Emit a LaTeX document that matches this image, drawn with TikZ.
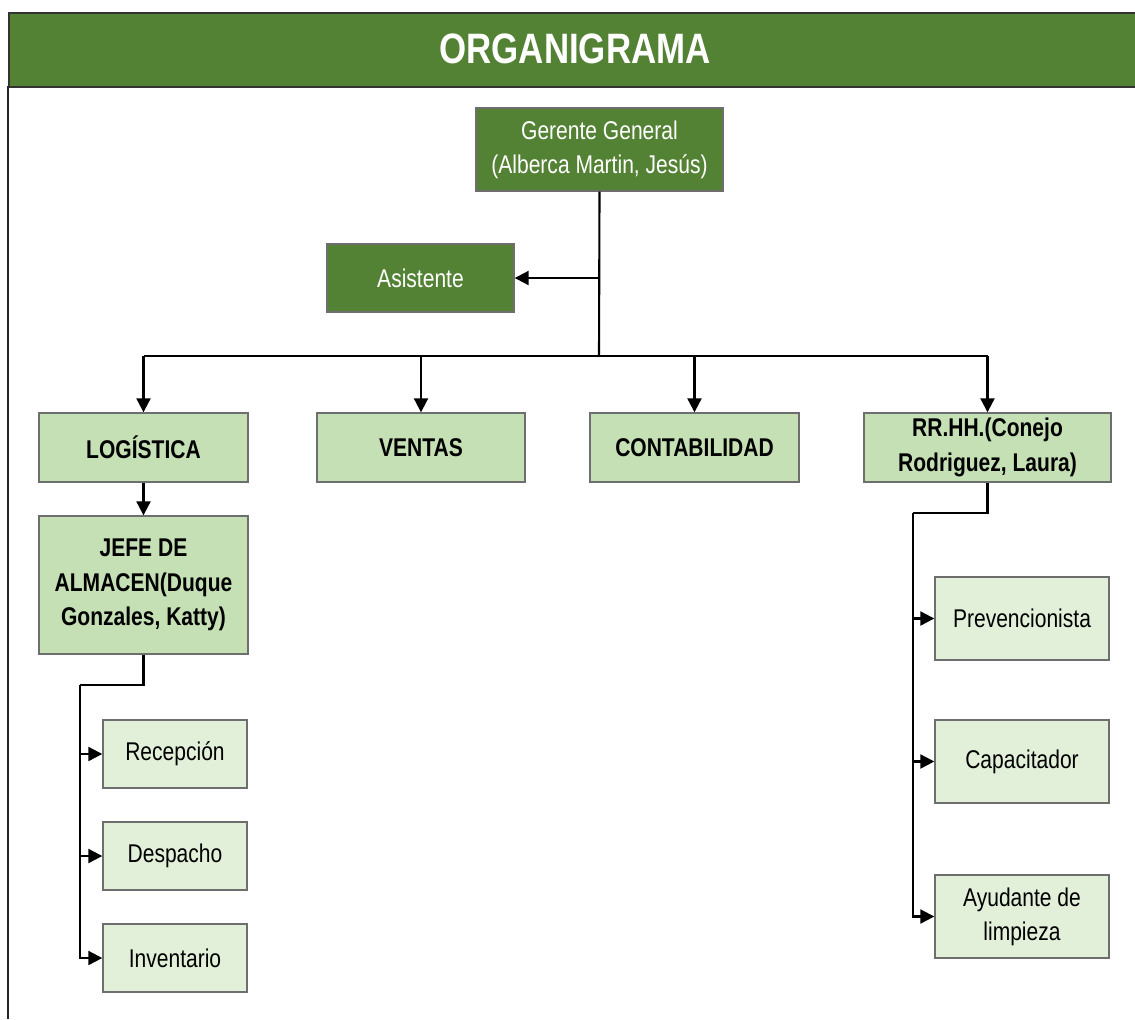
\documentclass[tikz,border=0pt]{standalone}
\usepackage{fontspec}
\setmainfont{Liberation Sans}[FakeStretch=0.82]
\usetikzlibrary{arrows.meta}
\definecolor{dkgreen}{HTML}{548235}
\definecolor{midgreen}{HTML}{C5E0B4}
\definecolor{ltgreen}{HTML}{E2F0D9}
\definecolor{boxline}{HTML}{6E6E6E}
\begin{document}
\begin{tikzpicture}[x=0.02cm,y=-0.02cm,
  base/.style={rectangle,draw=boxline,line width=0.8pt,align=center,inner sep=0pt,
    font=\fontsize{14.6}{19.5}\selectfont},
  dkbox/.style={base,fill=dkgreen,text=white},
  mdbox/.style={base,fill=midgreen,text=black,font=\fontsize{14.6}{19.5}\selectfont\bfseries},
  ltbox/.style={base,fill=ltgreen,text=black},
  conn/.style={line width=1.2pt,black},
  arr/.style={conn,-{Triangle[length=8pt,width=8pt]}}]
\useasboundingbox (0,0) rectangle (1135,1019);
% frame and title
\fill[white] (0,0) rectangle (1135,1019);
\node[rectangle,fill=dkgreen,draw=black!80,line width=1.3pt,minimum width=22.8cm,minimum height=1.48cm,
  anchor=north west,inner sep=0pt] (title) at (8,12) {};
\node[text=white,font=\fontsize{24.2}{28}\selectfont\bfseries] (ttext) at (575,49) {ORGANIGRAMA};
\coordinate (fl) at (8,86);
\coordinate (fb) at (8,1019);
\draw[black!85,line width=1.4pt] (fl) -- (fb);
% boxes
\node[dkbox,minimum width=4.94cm,minimum height=1.66cm] (ger) at (599.5,149.5) {Gerente General\\(Alberca Martin, Jesús)};
\node[dkbox,minimum width=3.74cm,minimum height=1.36cm] (asis) at (420.5,278) {Asistente};
\node[mdbox,minimum width=4.18cm,minimum height=1.38cm] (log) at (143.5,447.5) {LOGÍSTICA};
\node[mdbox,minimum width=4.16cm,minimum height=1.38cm] (ven) at (421,447.5) {VENTAS};
\node[mdbox,minimum width=4.18cm,minimum height=1.38cm] (con) at (694.5,447.5) {CONTABILIDAD};
\node[mdbox,minimum width=4.94cm,minimum height=1.38cm] (rrhh) at (987.5,447.5) {RR.HH.(Conejo\\Rodriguez, Laura)};
\node[mdbox,minimum width=4.18cm,minimum height=2.76cm] (jefe) at (143.5,585) {JEFE DE\\ALMACEN(Duque\\Gonzales, Katty)};
\node[ltbox,minimum width=2.88cm,minimum height=1.36cm] (rec) at (175,754) {Recepción};
\node[ltbox,minimum width=2.88cm,minimum height=1.36cm] (des) at (175,856) {Despacho};
\node[ltbox,minimum width=2.88cm,minimum height=1.36cm] (inv) at (175,958) {Inventario};
\node[ltbox,minimum width=3.48cm,minimum height=1.66cm] (prev) at (1022,618.5) {Prevencionista};
\node[ltbox,minimum width=3.48cm,minimum height=1.66cm] (cap) at (1022,761.5) {Capacitador};
\node[ltbox,minimum width=3.48cm,minimum height=1.66cm] (ayu) at (1022,916.5) {Ayudante de\\limpieza};
% connectors
\coordinate (bus) at (599,356);
\draw[conn] (ger.south) -- (bus);
\draw[arr] (ger.south |- asis.east) -- (asis.east);
\draw[conn] (log.north |- bus) -- (rrhh.north |- bus);
\draw[arr] (log.north |- bus) -- (log.north);
\draw[arr] (ven.north |- bus) -- (ven.north);
\draw[arr] (con.north |- bus) -- (con.north);
\draw[arr] (rrhh.north |- bus) -- (rrhh.north);
\draw[arr] (log.south) -- (jefe.north);
\coordinate (lj) at (80,685);
\draw[conn] (jefe.south) |- (lj);
\draw[arr] (lj) |- (inv.west);
\draw[arr] (lj |- rec.west) -- (rec.west);
\draw[arr] (lj |- des.west) -- (des.west);
\coordinate (rj) at (913,513);
\draw[conn] (rrhh.south) |- (rj);
\draw[arr] (rj) |- (ayu.west);
\draw[arr] (rj |- prev.west) -- (prev.west);
\draw[arr] (rj |- cap.west) -- (cap.west);
\end{tikzpicture}
\end{document}
